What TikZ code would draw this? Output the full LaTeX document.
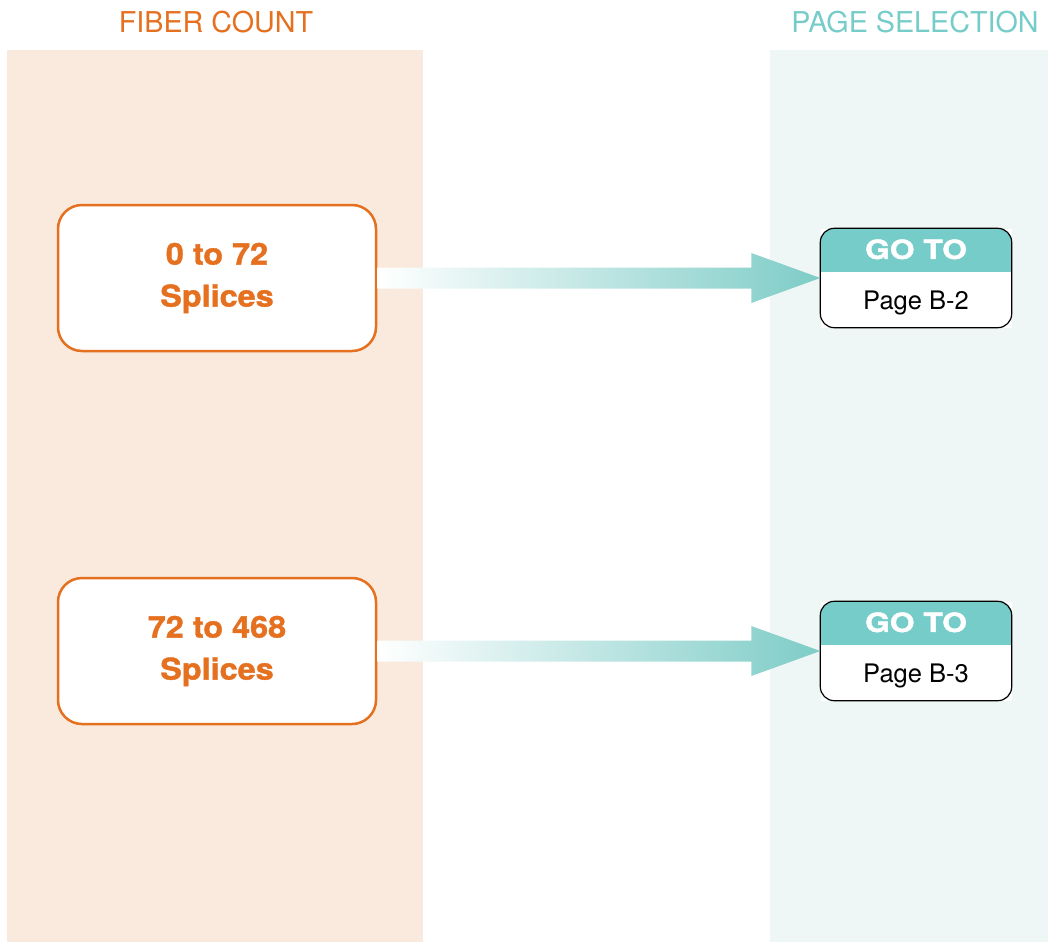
\documentclass[tikz,border=0pt]{standalone}
\usepackage{fontspec}
\setmainfont{TeX Gyre Heros}
\newfontfamily\countfont[FakeStretch=1.08,FakeBold=1.2]{TeX Gyre Heros}
\newfontfamily\gotofont[FakeStretch=1.2,FakeBold=1.6]{TeX Gyre Heros}
\usetikzlibrary{positioning}
\definecolor{fiberorange}{HTML}{E5701F}
\definecolor{fiberband}{HTML}{FAEADD}
\definecolor{pageteal}{HTML}{76CCC8}
\definecolor{pageband}{HTML}{EEF7F5}
\definecolor{arrowteal}{HTML}{7ECCC7}
\begin{document}
\begin{tikzpicture}[x=1pt,y=-1pt,
  colhead/.style={font=\fontsize{28.7}{34}\selectfont},
  countbox/.style={draw=fiberorange,line width=2.5pt,fill=white,rounded corners=24pt,
    minimum width=318pt,minimum height=146pt,text=fiberorange,align=center,
    font=\countfont\bfseries\fontsize{30}{42}\selectfont},
  gotobox/.style={fill=white,minimum width=191pt,minimum height=99pt},
  gotoframe/.style={draw=black,line width=1.2pt,rounded corners=14pt},
  gototext/.style={text=white,font=\gotofont\bfseries\fontsize{26.5}{30}\selectfont},
  pagetext/.style={font=\fontsize{25.5}{30}\selectfont},
  flow/.style={left color=white,right color=arrowteal}]
\useasboundingbox (0,0) rectangle (1048,942);
\fill[fiberband] (7,50) rectangle (423,942);
\fill[pageband] (770,50) rectangle (1048,942);
\node[colhead,text=fiberorange] (fiber) at (216,22) {FIBER COUNT};
\node[colhead,text=pageteal] (page) at (915,22) {PAGE SELECTION};
\foreach \i/\y/\range/\pg in {1/278/0 to 72/B-2, 2/651/72 to 468/B-3} {
  \node[countbox] (b\i) at (217,\y) {\range\\Splices};
  \node[gotobox] (g\i) at (916,\y) {};
  \begin{scope}
    \clip[rounded corners=14pt] (g\i.south west) rectangle (g\i.north east);
    \fill[pageteal] (g\i.north west) rectangle ([yshift=-44pt]g\i.north east);
  \end{scope}
  \draw[gotoframe] (g\i.south west) rectangle (g\i.north east);
  \node[gototext] (t\i) at ([yshift=-21pt]g\i.north) {GO TO};
  \node[pagetext] (p\i) at ([yshift=-25pt]g\i.center) {Page \pg};
  \shade[flow] ([yshift=10.5pt]b\i.east) -- ([xshift=-69pt,yshift=10.5pt]g\i.west)
    -- ([xshift=-69pt,yshift=25pt]g\i.west) -- (g\i.west)
    -- ([xshift=-69pt,yshift=-25pt]g\i.west) -- ([xshift=-69pt,yshift=-10.5pt]g\i.west)
    -- ([yshift=-10.5pt]b\i.east) -- cycle;
}
\end{tikzpicture}
\end{document}
